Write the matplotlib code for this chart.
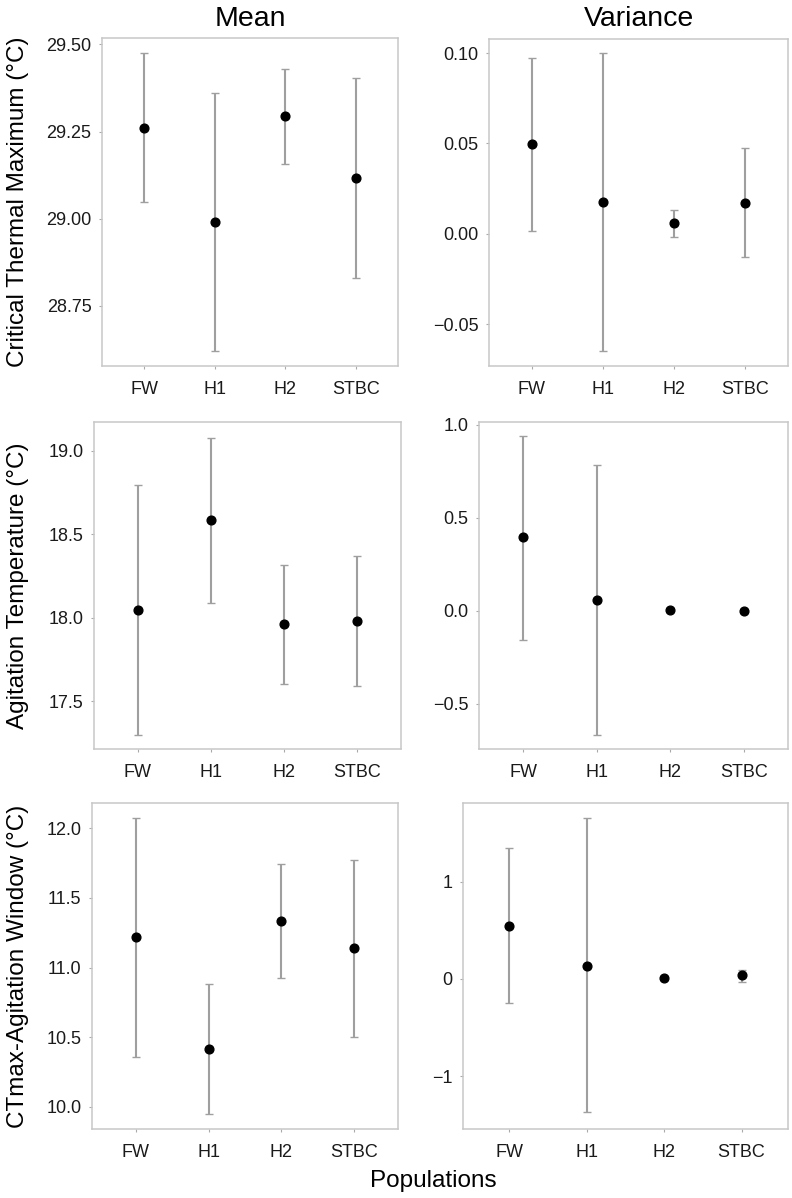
import matplotlib
matplotlib.use("Agg")
import matplotlib.pyplot as plt

plt.rcParams['font.family'] = ['Liberation Sans', 'DejaVu Sans']

populations = ["FW", "H1", "H2", "STBC"]

# Critical Thermal Maximum - mean
ctmax_mean = [29.26, 28.992, 29.295, 29.117]
ctmax_mean_lo = [29.049, 28.622, 29.156, 28.831]
ctmax_mean_hi = [29.474, 29.359, 29.430, 29.404]
# Critical Thermal Maximum - variance
ctmax_var = [0.0496, 0.0177, 0.0059, 0.0172]
ctmax_var_lo = [0.0014, -0.0648, -0.0017, -0.0130]
ctmax_var_hi = [0.0972, 0.1000, 0.0133, 0.0473]

# Agitation temperature - mean
agit_mean = [18.048, 18.582, 17.962, 17.982]
agit_mean_lo = [17.299, 18.085, 17.605, 17.591]
agit_mean_hi = [18.793, 19.078, 18.317, 18.370]
# Agitation temperature - variance
agit_var = [0.396, 0.055, 0.005, 0.000]
agit_var_lo = [-0.160, -0.667, -0.005, -0.008]
agit_var_hi = [0.941, 0.785, 0.015, 0.008]

# CTmax-Agitation window - mean
win_mean = [11.217, 10.412, 11.335, 11.138]
win_mean_lo = [10.354, 9.948, 10.923, 10.500]
win_mean_hi = [12.077, 10.880, 11.747, 11.770]
# CTmax-Agitation window - variance
win_var = [0.544, 0.129, 0.013, 0.037]
win_var_lo = [-0.253, -1.366, 0.000, -0.028]
win_var_hi = [1.344, 1.657, 0.026, 0.095]

ylabels = ["Critical Thermal Maximum (°C)", "Agitation Temperature (°C)",
           "CTmax-Agitation Window (°C)"]
col_titles = ["Mean", "Variance"]

W, H = 792, 1198
fig = plt.figure(figsize=(W / 100, H / 100), dpi=100)

# pixel boxes: left, top, right, bottom
boxes = [
    [(102, 38, 398, 366), (489, 39, 788, 366)],
    [(94, 422, 401, 749), (479, 422, 788, 749)],
    [(92, 803, 398, 1129), (463, 803, 788, 1129)],
]

panels = [
    [(ctmax_mean, ctmax_mean_lo, ctmax_mean_hi, (28.578, 29.518), [28.75, 29.0, 29.25, 29.5], "{:.2f}"),
     (ctmax_var, ctmax_var_lo, ctmax_var_hi, (-0.0731, 0.1078), [-0.05, 0.0, 0.05, 0.10], "{:.2f}")],
    [(agit_mean, agit_mean_lo, agit_mean_hi, (17.213, 19.171), [17.5, 18.0, 18.5, 19.0], "{:.1f}"),
     (agit_var, agit_var_lo, agit_var_hi, (-0.7435, 1.0145), [-0.5, 0.0, 0.5, 1.0], "{:.1f}")],
    [(win_mean, win_mean_lo, win_mean_hi, (9.84, 12.182), [10.0, 10.5, 11.0, 11.5, 12.0], "{:.1f}"),
     (win_var, win_var_lo, win_var_hi, (-1.544, 1.807), [-1, 0, 1], "{:.0f}")],
]

spine_col = "#c8c8c8"
err_col = "#9f9f9f"
xs = list(range(1, len(populations) + 1))

for r in range(3):
    for c in range(2):
        l, t, rr, b = boxes[r][c]
        ax = fig.add_axes([l / W, 1 - b / H, (rr - l) / W, (b - t) / H])
        vals, lo, hi, ylim, yticks, fmt = panels[r][c]
        yerr = [[v - a for v, a in zip(vals, lo)], [h - v for v, h in zip(vals, hi)]]
        ax.errorbar(xs, vals, yerr=yerr, fmt="none", ecolor=err_col,
                    elinewidth=1.5, capsize=2.8, capthick=1.0, zorder=2)
        ax.plot(xs, vals, "o", color="black", markersize=6.3, zorder=3)
        ax.set_xlim(0.4, 4.6)
        ax.set_ylim(*ylim)
        ax.set_xticks(xs)
        ax.set_xticklabels(populations)
        ax.set_yticks(yticks)
        ax.set_yticklabels([fmt.format(v).replace("-", "\u2212") for v in yticks])
        for s in ax.spines.values():
            s.set_color(spine_col)
            s.set_linewidth(1.1)
        ax.tick_params(axis="both", length=2.5, width=0.8, color="#aaaaaa",
                       labelsize=13, labelcolor="#1a1a1a")
        ax.tick_params(axis="x", pad=8)
        ax.tick_params(axis="y", pad=5)
        if r == 0:
            ax.set_title(col_titles[c], fontsize=20.5, pad=9)
        if c == 0:
            ax.set_ylabel(ylabels[r], fontsize=17.5)
            ax.yaxis.set_label_coords((29 - l) / (rr - l), 0.5)

fig.text(433 / W, 1 - 1181 / H, "Populations", ha="center", va="center", fontsize=17.5)

fig.savefig("out.png", dpi=100)
